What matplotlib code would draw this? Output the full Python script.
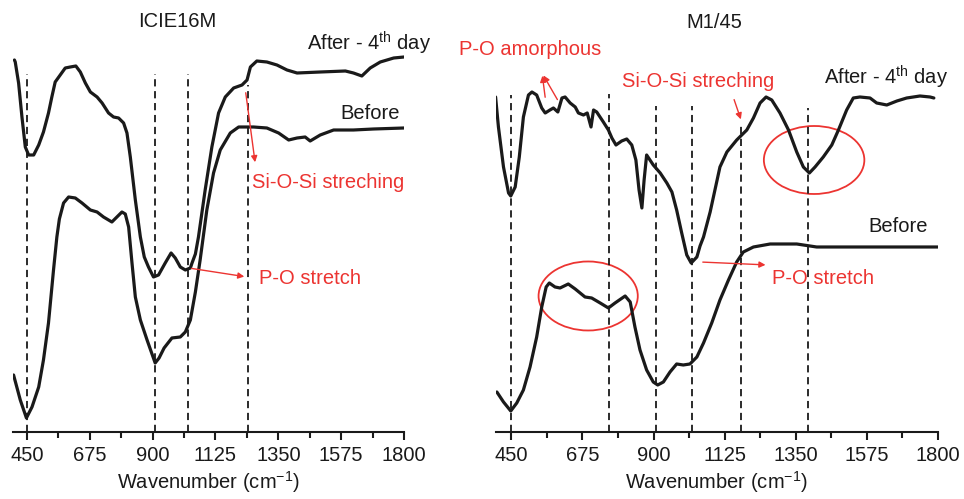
import numpy as np
import matplotlib
matplotlib.use("Agg")
import matplotlib.pyplot as plt
from matplotlib.patches import Ellipse

plt.rcParams['font.family'] = ['Liberation Sans', 'DejaVu Sans']
plt.rcParams['mathtext.fontset'] = 'custom'
plt.rcParams['mathtext.rm'] = 'Liberation Sans'
plt.rcParams['mathtext.it'] = 'Liberation Sans'

# ---- ICIE16M (left) ----
icie_after_wn = [405, 408, 420, 432, 444, 456, 474, 492, 509, 527, 539, 551, 569, 587, 605, 625,
                 641, 659, 677, 701, 719, 742, 760, 778, 796, 808, 820, 838, 856, 870, 885,
                 903, 921, 945, 966, 981, 999, 1017, 1035, 1041, 1053, 1064, 1088, 1112, 1136,
                 1160, 1190, 1220, 1238, 1250, 1273, 1309, 1345, 1381, 1417, 1500, 1590, 1619,
                 1649, 1679, 1715, 1763, 1800]
icie_after = [372, 370, 349, 315, 285, 277, 277, 287, 300, 319, 335, 350, 357, 364, 365, 366,
              360, 349, 340, 335, 329, 319, 315, 314, 309, 299, 275, 232, 195, 175, 165,
              155, 157, 169, 179, 174, 165, 162, 164, 169, 178, 195, 242, 285, 319,
              335, 344, 347, 352, 365, 371, 370, 367, 362, 359, 360, 361, 359,
              356, 364, 370, 374, 375]
icie_before_wn = [402, 426, 448, 468, 492, 509, 527, 545, 557, 566, 581, 599, 623, 647, 677, 701,
                  724, 754, 772, 790, 802, 814, 826, 838, 856, 880, 909, 923, 941, 969, 999,
                  1017, 1035, 1053, 1070, 1094, 1118, 1142, 1178, 1208, 1261, 1309, 1351, 1387,
                  1417, 1446, 1464, 1500, 1548, 1619, 1691, 1800]
icie_before = [57, 32, 14, 25, 45, 72, 109, 162, 195, 213, 229, 235, 234, 229, 222, 220,
               215, 210, 215, 220, 218, 205, 169, 135, 112, 92, 69, 74, 84, 94, 95,
               100, 112, 140, 172, 222, 259, 282, 299, 305, 305, 304, 299, 292,
               294, 295, 291, 297, 302, 302, 303, 304]
icie_lines = [450, 909, 1026, 1240]
icie_line_top = [358, 358, 358, 347]

# ---- M1/45 (right) ----
m145_after_wn = [400, 409, 425, 441, 448, 462, 475, 488, 504, 515, 530, 546, 557, 572, 583, 597,
                 610, 620, 636, 652, 662, 678, 690, 702, 710, 720, 741, 757, 768, 781, 799,
                 815, 831, 844, 854, 863, 870, 878, 899, 921, 942, 958, 973, 989, 1005, 1019,
                 1037, 1047, 1058, 1079, 1110, 1132, 1163, 1195, 1216, 1237, 1256, 1274, 1300,
                 1327, 1353, 1374, 1393, 1411, 1437, 1464, 1485, 1511, 1532, 1553, 1585, 1606,
                 1638, 1670, 1701, 1743, 1775, 1787]
m145_after = [335, 305, 265, 239, 236, 245, 275, 315, 337, 340, 337, 324, 319, 322, 324, 320,
              334, 335, 329, 325, 319, 317, 319, 305, 322, 320, 310, 302, 294, 287, 291,
              293, 287, 272, 242, 224, 252, 277, 267, 259, 249, 240, 222, 199, 177, 169,
              175, 186, 195, 220, 265, 280, 292, 302, 314, 329, 335, 332, 319,
              302, 280, 265, 259, 265, 275, 287, 302, 322, 334, 335, 334, 329,
              327, 331, 334, 336, 335, 334]
m145_before_wn = [404, 425, 448, 467, 488, 509, 530, 546, 560, 570, 588, 604, 630, 652, 683, 704,
                  731, 757, 778, 810, 826, 841, 857, 878, 899, 913, 931, 952, 973, 994, 1015,
                  1037, 1058, 1084, 1110, 1137, 1163, 1184, 1216, 1269, 1353, 1416, 1490, 1564,
                  1648, 1800]
m145_before = [40, 30, 21, 29, 42, 65, 95, 125, 145, 149, 145, 144, 148, 143, 135, 134,
               129, 124, 129, 136, 130, 105, 82, 62, 50, 47, 50, 60, 68, 67, 68,
               75, 89, 109, 132, 152, 170, 180, 185, 188, 188, 185, 185, 185,
               185, 185]
m145_lines = [450, 758, 909, 1020, 1176, 1389]
m145_line_top = [337, 338, 326, 326, 309, 324]

ticks = [450, 675, 900, 1125, 1350, 1575, 1800]
RED = '#ec3431'
BLACK = '#1a1a1a'
FS = 14.5

fig = plt.figure(figsize=(9.64, 4.99), dpi=100)
ax1 = fig.add_axes([0.0135, 0.1343, 0.4056, 0.8657])
ax2 = fig.add_axes([0.5141, 0.1343, 0.4589, 0.8657])


def style(ax):
    ax.set_xlim(400, 1800)
    ax.set_ylim(0, 432)
    for s in ['top', 'right', 'left']:
        ax.spines[s].set_visible(False)
    ax.spines['bottom'].set_linewidth(1.5)
    ax.spines['bottom'].set_color(BLACK)
    ax.set_yticks([])
    ax.set_xticks(ticks)
    ax.set_xticks([t + 112.5 for t in ticks[:-1]], minor=True)
    ax.tick_params(axis='x', which='major', length=6, width=1.5, labelsize=FS, colors=BLACK, pad=4)
    ax.tick_params(axis='x', which='minor', length=4, width=1.5, colors=BLACK)
    ax.set_xlabel('Wavenumber (cm$^{-1}$)', fontsize=FS, color=BLACK, labelpad=3)


for ax, lines, tops in [(ax1, icie_lines, icie_line_top), (ax2, m145_lines, m145_line_top)]:
    style(ax)
    for x, t in zip(lines, tops):
        ax.plot([x, x], [0, t], color=BLACK, lw=1.3, dashes=(4, 2.6))

for ax, wn, y in [(ax1, icie_after_wn, icie_after), (ax1, icie_before_wn, icie_before),
                  (ax2, m145_after_wn, m145_after), (ax2, m145_before_wn, m145_before)]:
    ax.plot(wn, y, color=BLACK, lw=2.3, solid_joinstyle='round', solid_capstyle='round')

arrow = dict(arrowstyle='-|>', color=RED, lw=1, mutation_scale=9)

# left annotations
ax1.text(988, 410, 'ICIE16M', fontsize=FS, ha='center', va='center', color=BLACK)
ax1.text(1454, 389, 'After - 4$^{\\rm th}$ day', fontsize=FS, ha='left', va='center', color=BLACK)
ax1.text(1573, 318, 'Before', fontsize=FS, ha='left', va='center', color=BLACK)
ax1.text(1257, 249, 'Si-O-Si streching', fontsize=FS, ha='left', va='center', color=RED)
ax1.text(1279, 153, 'P-O stretch', fontsize=FS, ha='left', va='center', color=RED)
ax1.annotate('', xy=(1268, 267), xytext=(1232, 342), arrowprops=arrow)
ax1.annotate('', xy=(1238, 155), xytext=(1029, 164), arrowprops=arrow)

# right annotations
ax2.text(1092, 409, 'M1/45', fontsize=FS, ha='center', va='center', color=BLACK)
ax2.text(284, 382, 'P-O amorphous', fontsize=FS, ha='left', va='center', color=RED)
ax2.text(800, 350, 'Si-O-Si streching', fontsize=FS, ha='left', va='center', color=RED)
ax2.text(1439, 355, 'After - 4$^{\\rm th}$ day', fontsize=FS, ha='left', va='center', color=BLACK)
ax2.text(1581, 205, 'Before', fontsize=FS, ha='left', va='center', color=BLACK)
ax2.text(1274, 153, 'P-O stretch', fontsize=FS, ha='left', va='center', color=RED)
for start in [(558, 332), (600, 330)]:
    ax2.annotate('', xy=(547, 359), xytext=start, arrowprops=arrow)
ax2.annotate('', xy=(1179, 310), xytext=(1152, 335), arrowprops=arrow)
ax2.annotate('', xy=(1263, 167), xytext=(1047, 170), arrowprops=arrow)
ax2.add_patch(Ellipse((1408, 272), 318, 68, fill=False, edgecolor=RED, lw=1.3))
ax2.add_patch(Ellipse((693, 136), 314, 69, fill=False, edgecolor=RED, lw=1.3))

fig.savefig('out.png', dpi=100)
